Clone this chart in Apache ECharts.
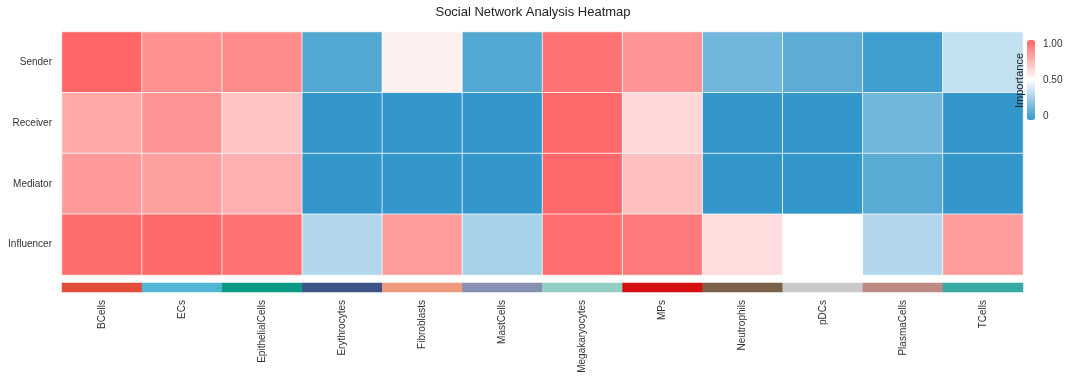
<!DOCTYPE html>
<html>
<head>
<meta charset="utf-8">
<script src="https://cdn.jsdelivr.net/npm/echarts@6/dist/echarts.min.js"></script>
<style>html,body{margin:0;padding:0;background:#fff}#c{width:1080px;height:380px}</style>
</head>
<body>
<div id="c"></div>
<script>
const cellTypes = ['BCells','ECs','EpithelialCells','Erythrocytes','Fibroblasts','MastCells','Megakaryocytes','MPs','Neutrophils','pDCs','PlasmaCells','TCells'];
const roles = ['Sender','Receiver','Mediator','Influencer'];
const sender     = [1.00, 0.86, 0.88, 0.08, 0.55, 0.08, 0.96, 0.85, 0.15, 0.10, 0.03, 0.35];
const receiver   = [0.78, 0.85, 0.69, 0.00, 0.00, 0.00, 0.99, 0.63, 0.00, 0.00, 0.15, 0.00];
const mediator   = [0.83, 0.81, 0.76, 0.00, 0.00, 0.00, 0.99, 0.71, 0.00, 0.00, 0.09, 0.00];
const influencer = [0.98, 0.99, 0.96, 0.31, 0.82, 0.28, 0.97, 0.93, 0.61, 0.50, 0.31, 0.82];
const annotationColors = ['#e24e39','#50b6d4','#0d9a84','#3e5386','#ee9a7c','#8690b2','#93d0c2','#d50f0f','#7c614a','#cacaca','#bd8a86','#38aaa5'];
const legendTicks = ['1.00','0.50','0'];
const legendTitle = 'Importance';

const rows = [sender, receiver, mediator, influencer];
const heatData = [];
rows.forEach((r, ri) => r.forEach((v, ci) => heatData.push([ci, ri, v])));
const annoData = cellTypes.map((c, i) => ({value: [i, 0, 1], itemStyle: {color: annotationColors[i]}}));

const chart = echarts.init(document.getElementById('c'), null, {renderer: 'canvas'});
const font = 'Liberation Sans, Arial, sans-serif';
const legendTop = 40, legendH = 80;
chart.setOption({
  animation: false,
  backgroundColor: '#fff',
  title: {text: 'Social Network Analysis Heatmap', left: 528, top: 1, textAlign: 'center',
    textStyle: {fontSize: 13, fontWeight: 'normal', color: '#222', fontFamily: font}},
  grid: [
    {left: 62, right: 57, top: 32, height: 243},
    {left: 62, right: 57, top: 283, height: 9}
  ],
  xAxis: [
    {type: 'category', gridIndex: 0, data: cellTypes, axisLine: {show: false}, axisTick: {show: false}, axisLabel: {show: false}, splitLine: {show: false}},
    {type: 'category', gridIndex: 1, data: cellTypes, axisLine: {show: false}, axisTick: {show: false},
      axisLabel: {rotate: 90, margin: 8, fontSize: 10, color: '#333', fontFamily: font}, splitLine: {show: false}}
  ],
  yAxis: [
    {type: 'category', gridIndex: 0, data: roles, inverse: true, axisLine: {show: false}, axisTick: {show: false},
      axisLabel: {margin: 10, fontSize: 10, color: '#333', fontFamily: font}, splitLine: {show: false}},
    {type: 'category', gridIndex: 1, data: ['anno'], axisLine: {show: false}, axisTick: {show: false}, axisLabel: {show: false}}
  ],
  visualMap: {
    type: 'continuous', seriesIndex: 0, min: 0, max: 1, calculable: false, orient: 'vertical',
    left: 1027, top: legendTop, itemWidth: 8, itemHeight: legendH, padding: 0, text: null, showLabel: false,
    inRange: {color: ['#3497cc', '#ffffff', '#ff6666']}
  },
  graphic: [
    ...legendTicks.map((t, i) => ({type: 'text', z: 100, x: 1043, y: legendTop - 1 + i * 36,
      style: {text: t, fill: '#333', font: '10px sans-serif'}})),
    {type: 'text', z: 100, x: 1014, y: 108, rotation: Math.PI / 2,
      style: {text: legendTitle, fill: '#222', font: '11px sans-serif'}}
  ],
  series: [
    {type: 'heatmap', xAxisIndex: 0, yAxisIndex: 0, data: heatData,
      itemStyle: {borderColor: 'rgba(255,255,255,0.75)', borderWidth: 1}},
    {type: 'heatmap', xAxisIndex: 1, yAxisIndex: 1, data: annoData, itemStyle: {borderWidth: 0}}
  ]
});
</script>
</body>
</html>
